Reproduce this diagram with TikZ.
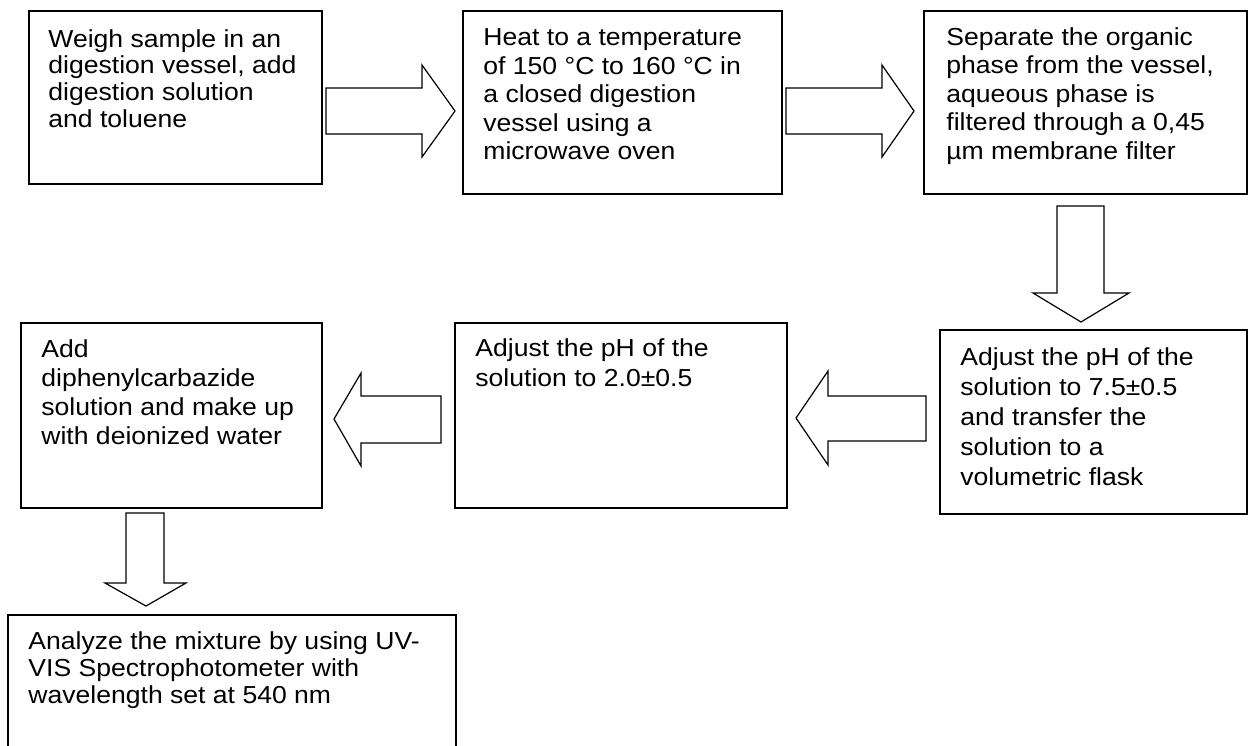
\documentclass[tikz,border=0pt]{standalone}
\usepackage{fontspec}
\setmainfont{Liberation Sans}[FakeStretch=1.08]
\tikzset{
  box/.style={draw, line width=0.9pt, anchor=north west, inner sep=0pt, fill=white},
  txt/.style={anchor=base west, inner sep=0pt},
  blockarrow/.style={draw, line width=0.6pt, line join=miter, fill=white},
}
\newcommand{\boxtext}[3]{\parbox[t]{#1}{\fontsize{12.3pt}{#2}\selectfont\raggedright #3}}
\begin{document}
\begin{tikzpicture}[x=0.5pt,y=-0.5pt]
\useasboundingbox (0,0) rectangle (1251,745);
\clip (0,0) rectangle (1251,745);
% boxes
\node[box, minimum width=146.5pt, minimum height=86.5pt] (b1) at (28,10) {};
\node[box, minimum width=159.5pt, minimum height=91.5pt] (b2) at (462,10) {};
\node[box, minimum width=161.5pt, minimum height=91.5pt] (b3) at (923,10) {};
\node[box, minimum width=153.5pt, minimum height=92pt] (b4) at (939,329) {};
\node[box, minimum width=166pt, minimum height=92.5pt] (b5) at (454,322) {};
\node[box, minimum width=150.5pt, minimum height=92.5pt] (b6) at (20,322) {};
\node[box, minimum width=224pt, minimum height=80pt] (b7) at (7,614) {};
% texts
\node[txt] (t1) at (48,47) {\boxtext{150pt}{13.35pt}{Weigh sample in an\\digestion vessel, add\\digestion solution\\and toluene}};
\node[txt] (t2) at (483,45.5) {\boxtext{150pt}{14.25pt}{Heat to a temperature\\of 150 °C to 160 °C in\\a closed digestion\\vessel using a\\microwave oven}};
\node[txt] (t3) at (946,45) {\boxtext{150pt}{14.3pt}{Separate the organic\\phase from the vessel,\\aqueous phase is\\filtered through a 0,45\\µm membrane filter}};
\node[txt] (t4) at (960,365) {\boxtext{150pt}{15pt}{Adjust the pH of the\\solution to 7.5±0.5\\and transfer the\\solution to a\\volumetric flask}};
\node[txt] (t5) at (475,356.7) {\boxtext{150pt}{15pt}{Adjust the pH of the\\solution to 2.0±0.5}};
\node[txt] (t6) at (41,357.5) {\boxtext{150pt}{14.5pt}{Add\\diphenylcarbazide\\solution and make up\\with deionized water}};
\node[txt] (t7) at (28,649) {\boxtext{220pt}{13.5pt}{Analyze the mixture by using UV-\\VIS Spectrophotometer with\\wavelength set at 540 nm}};
% block arrows
\draw[blockarrow] (326,88) -- (422,88) -- (422,65) -- (455,111) -- (422,157) -- (422,134) -- (326,134) -- cycle;
\draw[blockarrow] (786,88) -- (882,88) -- (882,65) -- (914,111) -- (882,157) -- (882,134) -- (786,134) -- cycle;
\draw[blockarrow] (1057,206) -- (1104,206) -- (1104,293) -- (1129,293) -- (1081,322) -- (1033,293) -- (1057,293) -- cycle;
\draw[blockarrow] (926,396) -- (828,396) -- (828,371) -- (796,418) -- (828,465) -- (828,441) -- (926,441) -- cycle;
\draw[blockarrow] (441,396) -- (361,396) -- (361,373) -- (334,419) -- (361,466) -- (361,443) -- (441,443) -- cycle;
\draw[blockarrow] (126,513) -- (164,513) -- (164,583) -- (186,583) -- (146,606) -- (105,583) -- (126,583) -- cycle;
\end{tikzpicture}
\end{document}
